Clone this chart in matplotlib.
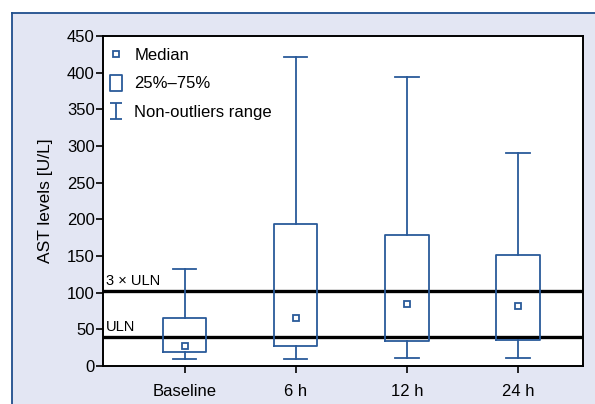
import matplotlib
matplotlib.use("Agg")
import matplotlib.pyplot as plt
from matplotlib.lines import Line2D
from matplotlib.path import Path
from matplotlib.patches import Rectangle
from matplotlib import font_manager

categories = ["Baseline", "6 h", "12 h", "24 h"]
whisker_low = [9, 9, 11, 11]
q1 = [19, 27, 34, 36]
median = [27, 66, 84, 82]
q3 = [66, 194, 179, 152]
whisker_high = [132, 422, 394, 291]
uln = 40
uln3 = 102
yticks = [0, 50, 100, 150, 200, 250, 300, 350, 400, 450]

names = {f.name for f in font_manager.fontManager.ttflist}
fam = [f for f in ["Liberation Sans Narrow", "Liberation Sans", "DejaVu Sans"] if f in names]
plt.rcParams['font.family'] = fam

BLUE = "#2A5A9A"
BG = "#E3E6F3"
W, H = 595, 404
fig = plt.figure(figsize=(W / 100, H / 100), dpi=100)
fig.patch.set_facecolor("white")
# background panel
fig.patches.append(Rectangle((12 / W, 0), 1 - 12 / W, 1 - 13 / H, transform=fig.transFigure,
                             facecolor=BG, edgecolor="none", zorder=-10))
fig.lines.append(Line2D([12 / W, 12 / W], [0, 1 - 13 / H], transform=fig.transFigure, color="#1F4E8C", lw=1.3, zorder=-9))
fig.lines.append(Line2D([12 / W, 1], [1 - 13 / H, 1 - 13 / H], transform=fig.transFigure, color="#1F4E8C", lw=1.3, zorder=-9))

ax = fig.add_axes([103 / W, 1 - 366 / H, 480 / W, 330 / H])
ax.set_facecolor("white")
pos = list(range(1, len(categories) + 1))
stats = []
for i in range(len(categories)):
    stats.append(dict(med=median[i], q1=q1[i], q3=q3[i], whislo=whisker_low[i], whishi=whisker_high[i], label=categories[i]))
ax.bxp(stats, positions=pos, widths=0.39, showfliers=False,
       boxprops=dict(color=BLUE, lw=1.3),
       whiskerprops=dict(color=BLUE, lw=1.3),
       capprops=dict(color=BLUE, lw=1.3),
       medianprops=dict(linestyle="none"),
       capwidths=0.21, zorder=3)
ax.plot(pos, median, linestyle="none", marker="s", markersize=5, markerfacecolor="white",
        markeredgecolor=BLUE, markeredgewidth=1.3, zorder=4)
ax.axhline(uln, color="black", lw=2.4, zorder=2)
ax.axhline(uln3, color="black", lw=2.4, zorder=2)
ax.text(0.29, uln + 4, "ULN", fontsize=10.5, va="bottom", ha="left")
ax.text(0.29, uln3 + 4, "3 \u00d7 ULN", fontsize=10.5, va="bottom", ha="left")

ax.set_xlim(0.264, 4.586)
ax.set_ylim(0, 450)
ax.set_yticks(yticks)
ax.set_xticks(pos)
ax.set_xticklabels(categories)
ax.tick_params(axis="both", labelsize=12, length=5, width=1.2, color="black")
ax.tick_params(axis="x", pad=8)
ax.tick_params(axis="y", pad=1)
for s in ax.spines.values():
    s.set_linewidth(1.4)
ax.set_ylabel("AST levels [U/L]", fontsize=12.5, labelpad=10)

# legend
ibar = Path([(0, -1), (0, 1), (-0.85, 1), (0.85, 1), (-0.85, -1), (0.85, -1)],
            [Path.MOVETO, Path.LINETO, Path.MOVETO, Path.LINETO, Path.MOVETO, Path.LINETO])
rect = Path([(-0.8, -1), (0.8, -1), (0.8, 1), (-0.8, 1), (-0.8, -1)],
            [Path.MOVETO, Path.LINETO, Path.LINETO, Path.LINETO, Path.CLOSEPOLY])
handles = [
    Line2D([], [], linestyle="none", marker="s", markersize=5, markerfacecolor="white",
           markeredgecolor=BLUE, markeredgewidth=1.3),
    Line2D([], [], linestyle="none", marker=rect, markersize=11, markerfacecolor="white",
           markeredgecolor=BLUE, markeredgewidth=1.3),
    Line2D([], [], linestyle="none", marker=ibar, markersize=11, markerfacecolor="none",
           markeredgecolor=BLUE, markeredgewidth=1.3),
]
ax.legend(handles, ["Median", "25%\u201375%", "Non-outliers range"], loc="upper left",
          bbox_to_anchor=(0.0098, 0.965),
          frameon=False, fontsize=12, handlelength=1.0, handletextpad=0.6,
          labelspacing=0.83, borderaxespad=0, borderpad=0)

fig.savefig("out.png", dpi=100)
